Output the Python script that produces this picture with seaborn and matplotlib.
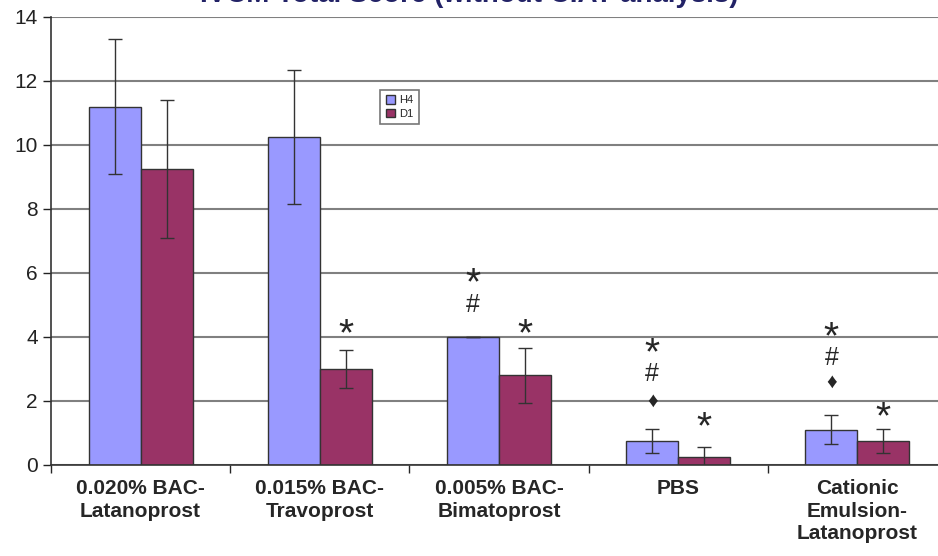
import matplotlib.pyplot as plt
from matplotlib.ticker import FixedLocator
import pandas as pd
import seaborn as sns

# values
groups = ['0.020% BAC-\nLatanoprost', '0.015% BAC-\nTravoprost', '0.005% BAC-\nBimatoprost',
          'PBS', 'Cationic\nEmulsion-\nLatanoprost']
h4_mean = [11.2, 10.25, 4.0, 0.75, 1.1]
h4_err = [2.1, 2.1, 0.0, 0.37, 0.45]
d1_mean = [9.25, 3.0, 2.8, 0.25, 0.75]
d1_err = [2.15, 0.6, 0.85, 0.3, 0.37]

# significance marks: (group, series, symbol, y)
marks = [
    (1, 'D1', '*', 4.3),
    (2, 'H4', '*', 5.9), (2, 'H4', '#', 5.0), (2, 'D1', '*', 4.3),
    (3, 'H4', '*', 3.7), (3, 'H4', '#', 2.85), (3, 'H4', '\u2666', 2.0), (3, 'D1', '*', 1.4),
    (4, 'H4', '*', 4.2), (4, 'H4', '#', 3.35), (4, 'H4', '\u2666', 2.6), (4, 'D1', '*', 1.7),
]

df = pd.DataFrame({
    'group': groups * 2,
    'series': ['H4'] * 5 + ['D1'] * 5,
    'value': h4_mean + d1_mean,
})

sns.set_style('white')
plt.rcParams['font.family'] = ['Liberation Sans', 'DejaVu Sans']

fig = plt.figure(figsize=(9.38, 5.56), dpi=100)
ax = fig.add_axes([51 / 938, 1 - 465 / 556, 1 - 51 / 938, 448 / 556])

ax.yaxis.grid(True, color='#808080', linewidth=1.5, zorder=0)
ax.set_axisbelow(True)

sns.barplot(data=df, x='group', y='value', hue='series', ax=ax, width=0.58,
            palette={'H4': '#9999FF', 'D1': '#993366'}, errorbar=None,
            edgecolor='#333333', linewidth=1.0, saturation=1, zorder=2)

centers = {}
for cont, name, errs in zip(ax.containers, ['H4', 'D1'], [h4_err, d1_err]):
    xs = [b.get_x() + b.get_width() / 2 for b in cont]
    ys = [b.get_height() for b in cont]
    centers[name] = xs
    ax.errorbar(xs, ys, yerr=errs, fmt='none', ecolor='#333333', elinewidth=1,
                capsize=5, capthick=1, zorder=3)

for g, s, sym, y in marks:
    fs = 28 if sym == '*' else (18 if sym == '#' else 15)
    dy = -0.25 if sym == '*' else 0
    ax.text(centers[s][g], y + dy, sym, ha='center', va='center', fontsize=fs, zorder=4,
            family=['Liberation Sans', 'DejaVu Sans'])

ax.set_ylim(0, 14)
ax.set_xlim(-0.5, 4.45)
ax.set_yticks(range(0, 15, 2))
ax.tick_params(axis='y', length=6, width=1, direction='out', labelsize=15, left=True, colors='#222222')
ax.tick_params(axis='x', which='major', length=0, labelsize=15, pad=10)
ax.xaxis.set_minor_locator(FixedLocator([-0.5, 0.5, 1.5, 2.5, 3.5]))
ax.tick_params(axis='x', which='minor', length=6, width=1, direction='out', bottom=True)
for lab in ax.get_xticklabels():
    lab.set_fontweight('bold')
    lab.set_va('top')
    lab.set_linespacing(1.25)
ax.set_xlabel('')
ax.set_ylabel('')

for side in ['top', 'right']:
    ax.spines[side].set_visible(False)
for side in ['left', 'bottom']:
    ax.spines[side].set_color('#333333')
    ax.spines[side].set_linewidth(1.2)

leg = ax.legend(loc='upper left', bbox_to_anchor=(0.365, 0.85), fontsize=8, frameon=True,
                fancybox=False, edgecolor='#555555', handlelength=0.8, handleheight=0.8,
                borderpad=0.5, labelspacing=0.3, handletextpad=0.4)
leg.get_frame().set_linewidth(1.2)

fig.text(0.5, 0.985, 'IVCM Total Score (without CIAT analysis)', ha='center', va='bottom',
         fontsize=20, fontweight='bold', color='#222266')

fig.savefig('out.png', dpi=100)
